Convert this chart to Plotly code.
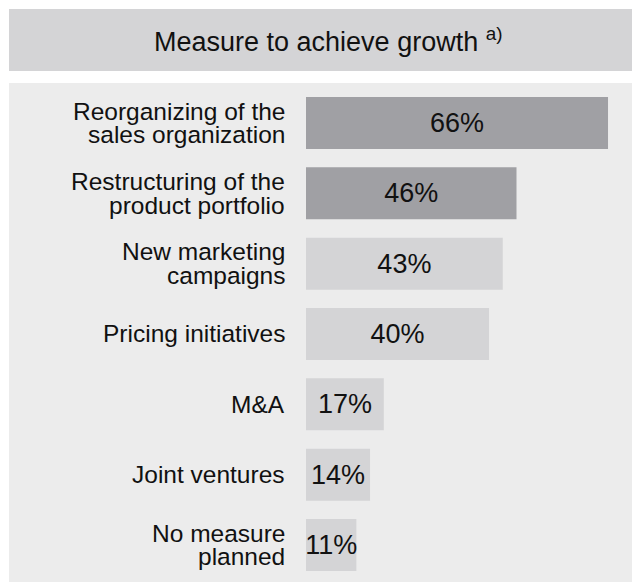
import plotly.graph_objects as go

# Survey results: measures planned to achieve growth
categories = [
    "Reorganizing of the<br>sales organization",
    "Restructuring of the<br>product portfolio",
    "New marketing<br>campaigns",
    "Pricing initiatives",
    "M&A",
    "Joint ventures",
    "No measure<br>planned",
]
shares = [66, 46, 43, 40, 17, 14, 11]
title_text = "Measure to achieve growth <sup>a)</sup>"

DARK = "#a0a0a4"
LIGHT = "#d4d4d6"
bar_colors = [DARK, DARK, LIGHT, LIGHT, LIGHT, LIGHT, LIGHT]

FONT = "Liberation Sans, Arial, sans-serif"
W, H = 632, 582
L, T = 306, 83
plot_w, plot_h = W - L, H - T

fig = go.Figure(
    go.Bar(
        x=shares,
        y=list(range(len(categories))),
        orientation="h",
        marker=dict(color=bar_colors, line=dict(width=0)),
        width=0.74,
        text=[f"{v}%" for v in shares],
        textposition="inside",
        insidetextanchor="middle",
        textangle=0,
        textfont=dict(family=FONT, size=27, color="#111111"),
        hoverinfo="skip",
    )
)

# category labels, one annotation per text line
line_gap = 23.5
for i, cat in enumerate(categories):
    lines = cat.split("<br>")
    n = len(lines)
    for j, ln in enumerate(lines):
        offset = ((n - 1) / 2 - j) * line_gap
        fig.add_annotation(
            x=0, xref="paper", xanchor="right", xshift=-19,
            y=i, yref="y", yanchor="middle", yshift=offset,
            text=ln, showarrow=False, align="right",
            font=dict(family=FONT, size=24.5, color="#111111"),
        )

def px_x(px):
    return (px - L) / plot_w

def px_y(py):
    return (H - py) / plot_h

# header band and panel background
fig.add_shape(type="rect", xref="paper", yref="paper",
              x0=px_x(9), x1=px_x(640), y0=px_y(71), y1=px_y(9),
              fillcolor=LIGHT, line=dict(width=0), layer="below")
fig.add_shape(type="rect", xref="paper", yref="paper",
              x0=px_x(9), x1=px_x(640), y0=px_y(590), y1=px_y(83),
              fillcolor="#ececec", line=dict(width=0), layer="below")

fig.add_annotation(
    x=px_x(328), xref="paper", xanchor="center",
    y=px_y(40), yref="paper", yanchor="middle",
    text=title_text, showarrow=False,
    font=dict(family=FONT, size=27, color="#111111"),
)

pitch = 70.33
top_units = -(123 - T) / pitch
bottom_units = (H - 123) / pitch

fig.update_layout(
    width=W, height=H,
    margin=dict(l=L, r=0, t=T, b=0, autoexpand=False),
    paper_bgcolor="white",
    plot_bgcolor="rgba(0,0,0,0)",
    showlegend=False,
    uniformtext=dict(minsize=27, mode="show"),
    xaxis=dict(range=[0, plot_w / 4.576], visible=False, fixedrange=True),
    yaxis=dict(range=[bottom_units, top_units], visible=False, fixedrange=True),
)

fig.write_html("out.html", config={"displayModeBar": False})
